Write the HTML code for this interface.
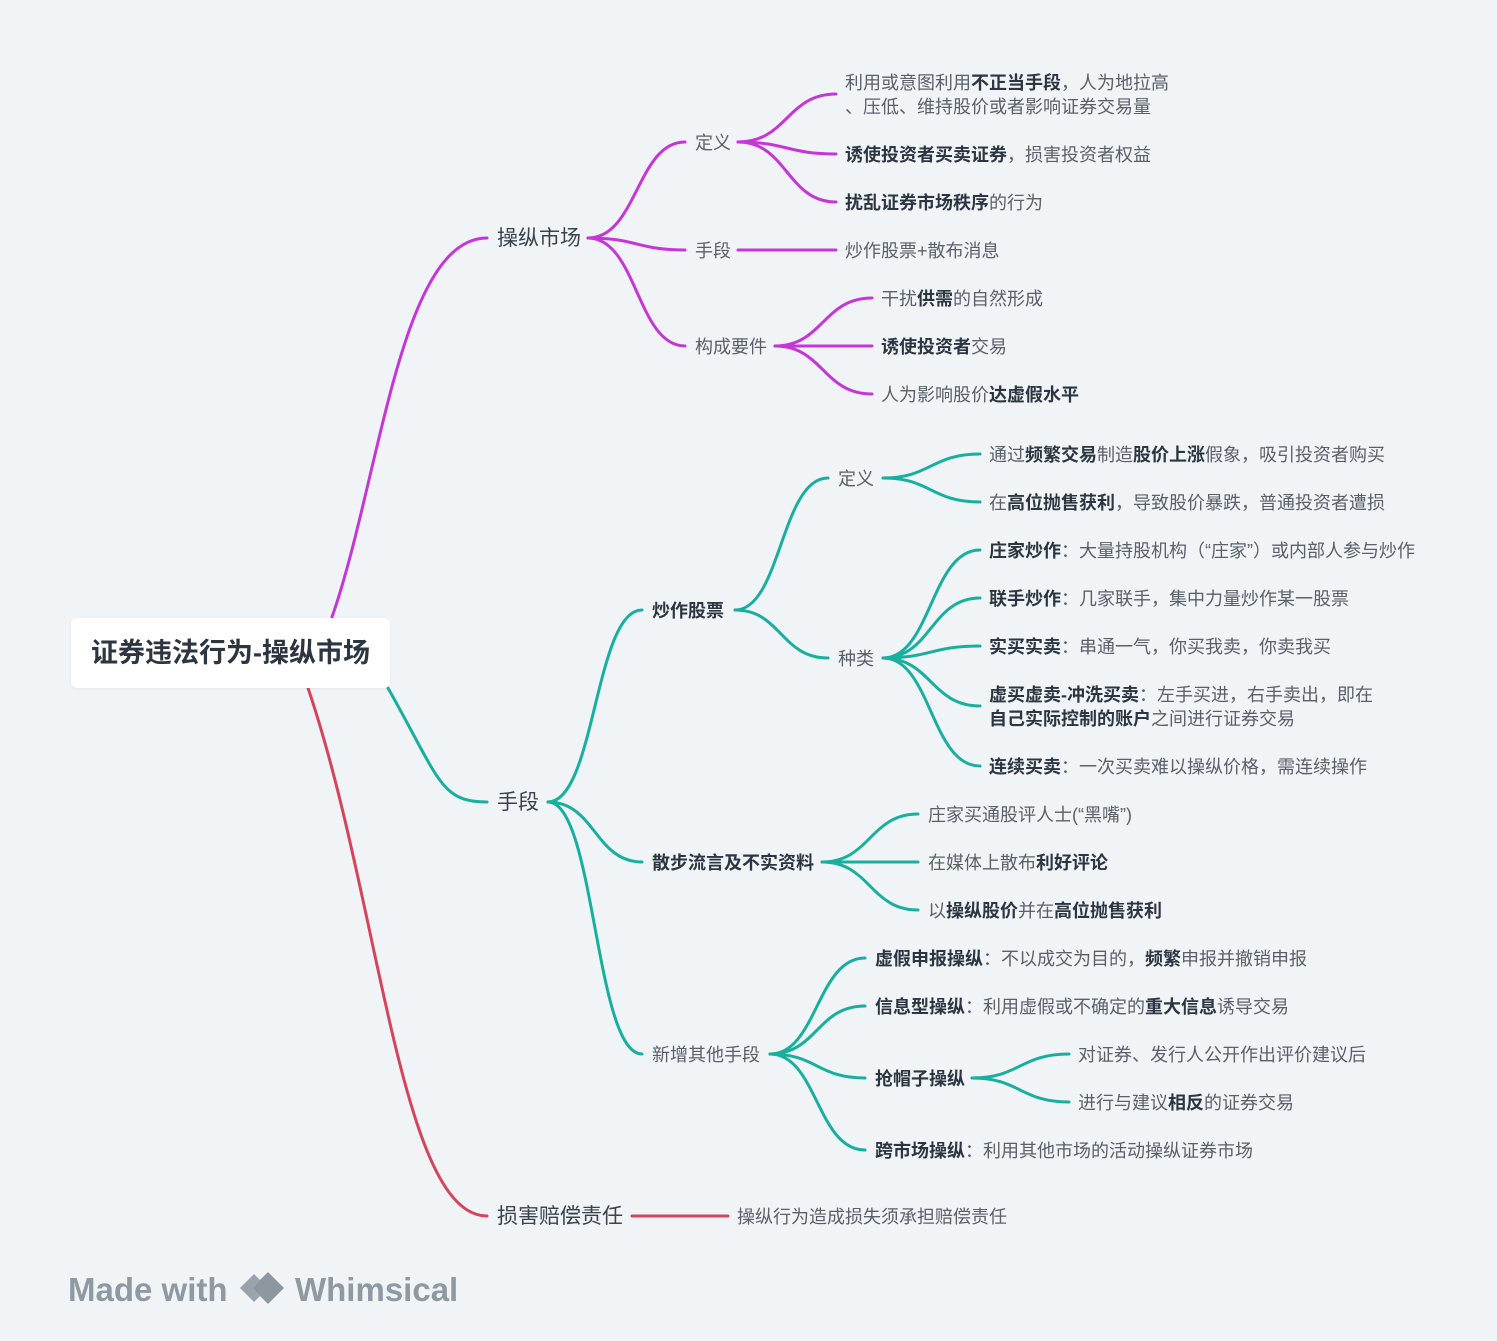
<!DOCTYPE html>
<html><head><meta charset="utf-8"><style>
body{margin:0;width:1497px;height:1341px;background:#f0f4f7;position:relative;overflow:hidden;font-family:"Liberation Sans","Noto Sans CJK SC",sans-serif;}
.t{position:absolute;white-space:nowrap;font-size:18px;line-height:24px;color:#596068;}
.t b{color:#2d3640;font-weight:bold;}
.l1{font-size:21px;color:#3a434c;}
svg{position:absolute;left:0;top:0;}
</style></head><body>
<svg width="1497" height="1341" fill="none" stroke-width="3" stroke-linecap="round">
<g stroke="#c437d6">
<path d="M332 617 C380 480 400 238 487 238"/>
<path d="M588 238 C637 238 637 142 685 142"/>
<path d="M588 238 C637 238 637 250 685 250"/>
<path d="M588 238 C637 238 637 346 685 346"/>
<path d="M738 142 C787 142 787 94 836 94"/>
<path d="M738 142 C787 142 787 154 836 154"/>
<path d="M738 142 C787 142 787 202 836 202"/>
<path d="M738 250 L836 250"/>
<path d="M775 346 C823 346 823 298 872 298"/>
<path d="M775 346 L872 346"/>
<path d="M775 346 C823 346 823 394 872 394"/>
</g>
<g stroke="#1aae9f">
<path d="M388 688 C440 780 440 802 487 802"/>
<path d="M548 802 C595 802 595 610 642 610"/>
<path d="M548 802 C595 802 595 862 642 862"/>
<path d="M548 802 C595 802 595 1054 642 1054"/>
<path d="M735 610 C781 610 781 478 828 478"/>
<path d="M735 610 C781 610 781 658 828 658"/>
<path d="M883 478 C931 478 931 454 980 454"/>
<path d="M883 478 C931 478 931 502 980 502"/>
<path d="M883 658 C931 658 931 550 980 550"/>
<path d="M883 658 C931 658 931 598 980 598"/>
<path d="M883 658 C931 658 931 646 980 646"/>
<path d="M883 658 C931 658 931 706 980 706"/>
<path d="M883 658 C931 658 931 766 980 766"/>
<path d="M822 862 C870 862 870 814 918 814"/>
<path d="M822 862 L918 862"/>
<path d="M822 862 C870 862 870 910 918 910"/>
<path d="M770 1054 C817 1054 817 958 865 958"/>
<path d="M770 1054 C817 1054 817 1006 865 1006"/>
<path d="M770 1054 C817 1054 817 1078 865 1078"/>
<path d="M770 1054 C817 1054 817 1150 865 1150"/>
<path d="M972 1078 C1020 1078 1020 1054 1069 1054"/>
<path d="M972 1078 C1020 1078 1020 1102 1069 1102"/>
</g>
<g stroke="#d3455b">
<path d="M308 688 C380 900 400 1216 487 1216"/>
<path d="M632 1216 L728 1216"/>
</g>
<g transform="translate(240,1272)">
<path d="M14 2 L0 16 L14 30 L20 24 L12 16 L20 8 Z" fill="#9aa3ab" stroke="none"/>
<path d="M28 0 L44 16 L28 32 L12 16 Z" fill="#8d979f" stroke="none"/>
</g>
</svg>
<div style="position:absolute;left:71px;top:618px;width:319px;height:70px;background:#fff;border-radius:6px;box-shadow:0 1px 3px rgba(0,0,0,0.06);"></div>
<div class="t" style="left:91px;top:637px;font-size:27px;line-height:32px;font-weight:bold;color:#2d3640;">证券违法行为-操纵市场</div>

<div class="t l1" style="left:497px;top:227px;">操纵市场</div>
<div class="t l1" style="left:497px;top:791px;">手段</div>
<div class="t l1" style="left:497px;top:1205px;">损害赔偿责任</div>

<div class="t" style="left:695px;top:131px;">定义</div>
<div class="t" style="left:695px;top:239px;">手段</div>
<div class="t" style="left:695px;top:335px;">构成要件</div>
<div class="t" style="left:845px;top:71px;">利用或意图利用<b>不正当手段</b>，人为地拉高<br>、压低、维持股价或者影响证券交易量</div>
<div class="t" style="left:845px;top:143px;"><b>诱使投资者买卖证券</b>，损害投资者权益</div>
<div class="t" style="left:845px;top:191px;"><b>扰乱证券市场秩序</b>的行为</div>
<div class="t" style="left:845px;top:239px;">炒作股票+散布消息</div>
<div class="t" style="left:881px;top:287px;">干扰<b>供需</b>的自然形成</div>
<div class="t" style="left:881px;top:335px;"><b>诱使投资者</b>交易</div>
<div class="t" style="left:881px;top:383px;">人为影响股价<b>达虚假水平</b></div>

<div class="t" style="left:652px;top:599px;"><b>炒作股票</b></div>
<div class="t" style="left:652px;top:851px;"><b>散步流言及不实资料</b></div>
<div class="t" style="left:652px;top:1043px;">新增其他手段</div>
<div class="t" style="left:838px;top:467px;">定义</div>
<div class="t" style="left:838px;top:647px;">种类</div>
<div class="t" style="left:989px;top:443px;">通过<b>频繁交易</b>制造<b>股价上涨</b>假象，吸引投资者购买</div>
<div class="t" style="left:989px;top:491px;">在<b>高位抛售获利</b>，导致股价暴跌，普通投资者遭损</div>
<div class="t" style="left:989px;top:539px;"><b>庄家炒作</b>：大量持股机构（“庄家”）或内部人参与炒作</div>
<div class="t" style="left:989px;top:587px;"><b>联手炒作</b>：几家联手，集中力量炒作某一股票</div>
<div class="t" style="left:989px;top:635px;"><b>实买实卖</b>：串通一气，你买我卖，你卖我买</div>
<div class="t" style="left:989px;top:683px;"><b>虚买虚卖-冲洗买卖</b>：左手买进，右手卖出，即在<br><b>自己实际控制的账户</b>之间进行证券交易</div>
<div class="t" style="left:989px;top:755px;"><b>连续买卖</b>：一次买卖难以操纵价格，需连续操作</div>
<div class="t" style="left:928px;top:803px;">庄家买通股评人士(“黑嘴”)</div>
<div class="t" style="left:928px;top:851px;">在媒体上散布<b>利好评论</b></div>
<div class="t" style="left:928px;top:899px;">以<b>操纵股价</b>并在<b>高位抛售获利</b></div>
<div class="t" style="left:875px;top:947px;"><b>虚假申报操纵</b>：不以成交为目的，<b>频繁</b>申报并撤销申报</div>
<div class="t" style="left:875px;top:995px;"><b>信息型操纵</b>：利用虚假或不确定的<b>重大信息</b>诱导交易</div>
<div class="t" style="left:875px;top:1067px;"><b>抢帽子操纵</b></div>
<div class="t" style="left:875px;top:1139px;"><b>跨市场操纵</b>：利用其他市场的活动操纵证券市场</div>
<div class="t" style="left:1078px;top:1043px;">对证券、发行人公开作出评价建议后</div>
<div class="t" style="left:1078px;top:1091px;">进行与建议<b>相反</b>的证券交易</div>
<div class="t" style="left:737px;top:1205px;">操纵行为造成损失须承担赔偿责任</div>

<div class="t" style="left:68px;top:1270px;font-size:33px;line-height:40px;font-weight:bold;color:#8f99a1;">Made with</div>
<div class="t" style="left:295px;top:1270px;font-size:33px;line-height:40px;font-weight:bold;color:#8f99a1;">Whimsical</div>
</body></html>
